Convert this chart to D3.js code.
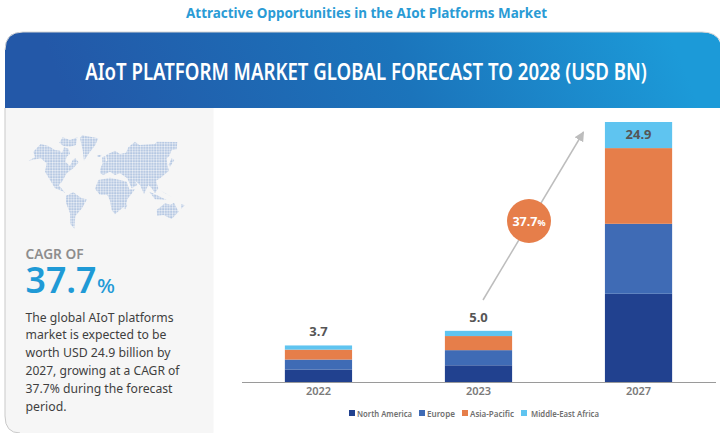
<!DOCTYPE html>
<html>
<head>
<meta charset="utf-8">
<script src="https://cdn.jsdelivr.net/npm/d3@7"></script>
<style>
html, body { margin: 0; padding: 0; background: #fff; overflow: hidden; }
text { font-family: "Noto Sans", "Open Sans", sans-serif; }
</style>
</head>
<body>
<div id="chart"></div>
<script>
var years = ["2022", "2023", "2027"];
var regions = ["North America", "Europe", "Asia-Pacific", "Middle-East Africa"];
var regionColors = ["#21418f", "#3f6bb5", "#e67e4a", "#5fc4f0"];
var northAmerica = [1.2, 1.6, 8.45];
var europe = [0.95, 1.45, 6.7];
var asiaPacific = [0.95, 1.35, 7.25];
var middleEastAfrica = [0.4, 0.5, 2.5];
var totals = ["3.7", "5.0", "24.9"];
var legendX = [349, 419, 462, 521];
var legendWidths = [55, 28, 44, 68];
var bodyLines = [
  "The global AIoT platforms",
  "market is expected to be",
  "worth USD 24.9 billion by",
  "2027, growing at a CAGR of",
  "37.7% during the forecast",
  "period."
];
var bodyWidths = [148, 141, 145, 154, 147, 41];

// rough outlines of the dotted world map, in 3x crop units
var land = [
  "M25,92L45,82L40,65L62,42L85,48L105,60L120,62L126,70L132,52L146,56L150,72L140,80L136,95L150,108L158,90L166,85L176,97L160,115L140,130L126,155L116,166L122,172L136,190L128,184L105,175L90,150L75,125L80,100L62,85Z",
  "M118,38L128,22L150,30L172,22L168,45L150,50L130,48Z",
  "M180,25L186,16L235,25L226,45L208,68L192,92L188,60Z",
  "M138,197L160,187L185,205L201,208L186,235L166,258L163,296L151,282L150,250L138,218Z",
  "M240,118L248,100L262,92L258,75L285,62L300,72L318,68L325,52L345,35L358,45L405,42L410,35L472,36L470,58L455,60L448,78L440,85L442,105L447,122L432,135L420,145L408,152L415,175L405,190L395,175L385,165L372,192L360,165L345,152L352,165L335,175L322,145L300,130L285,135L270,125L250,135L240,130Z",
  "M225,176L235,150L270,143L300,150L320,155L328,178L345,178L322,208L318,225L300,240L285,253L275,240L270,212L262,195L240,195Z",
  "M410,240L435,220L452,224L462,218L476,245L455,267L430,255L412,258Z",
  "M388,185L410,195L440,210L405,208Z",
  "M420,180L445,195L462,205L435,190Z",
  "M315,222L322,225L316,238L311,235Z",
  "M455,85L463,90L450,110L446,104Z",
  "M246,82L256,78L258,98L247,100Z",
  "M232,76L244,74L242,81L233,81Z",
  "M484,222L494,226L484,236Z"
];

var width = 720, height = 433;

var svg = d3.select("#chart").append("svg")
  .attr("width", width)
  .attr("height", height)
  .style("display", "block");

var defs = svg.append("defs");

var grad = defs.append("linearGradient")
  .attr("id", "headerGrad")
  .attr("gradientUnits", "userSpaceOnUse")
  .attr("x1", 100).attr("y1", 180)
  .attr("x2", 640).attr("y2", -40);
grad.append("stop").attr("offset", 0).attr("stop-color", "#2358a8");
grad.append("stop").attr("offset", 0.55).attr("stop-color", "#1b74bb");
grad.append("stop").attr("offset", 1).attr("stop-color", "#1c9ad8");

var plaid = defs.append("pattern")
  .attr("id", "plaid")
  .attr("patternUnits", "userSpaceOnUse")
  .attr("width", 8).attr("height", 8);
plaid.append("rect").attr("width", 8).attr("height", 8).attr("fill", "#b4c7e2");
plaid.append("rect").attr("width", 3).attr("height", 8).attr("fill", "#d6e0ef");
plaid.append("rect").attr("width", 8).attr("height", 3).attr("fill", "#d6e0ef");
plaid.append("rect").attr("width", 3).attr("height", 3).attr("fill", "#eef1f6");

defs.append("marker")
  .attr("id", "head")
  .attr("viewBox", "0 0 10 10")
  .attr("refX", 9).attr("refY", 5)
  .attr("markerUnits", "userSpaceOnUse")
  .attr("markerWidth", 10).attr("markerHeight", 10)
  .attr("orient", "auto")
  .append("path").attr("d", "M0,0L10,5L0,10Z").attr("fill", "#bdbdbd");

// card: side panel and header
svg.append("path")
  .attr("d", "M213.5,108V433H20Q5,433 5,416V108Z")
  .attr("fill", "#f6f6f6")
  .attr("stroke", "none");
svg.append("path")
  .attr("d", "M5,108V416Q5,433 20,433")
  .attr("fill", "none")
  .attr("stroke", "#c9c9c9");
svg.append("path")
  .attr("d", "M5,108V50Q5,32 23,32H702Q720,32 722,50V108Z")
  .attr("fill", "url(#headerGrad)");
svg.append("path")
  .attr("d", "M5,50Q5,32 23,32H702Q716,32 721,42")
  .attr("fill", "none")
  .attr("stroke", "#d4d4d4");

svg.append("text")
  .attr("x", 366.5).attr("y", 18)
  .attr("text-anchor", "middle")
  .attr("textLength", 361)
  .attr("lengthAdjust", "spacingAndGlyphs")
  .attr("font-size", 13.5).attr("font-weight", 700)
  .attr("fill", "#2a9bd5")
  .text("Attractive Opportunities in the AIot Platforms Market");

// the original face is narrower than Noto Sans, so squeeze the title to its width
var title = svg.append("text")
  .attr("text-anchor", "middle")
  .attr("font-size", 24).attr("font-weight", 600)
  .attr("fill", "#fff")
  .text("AIoT PLATFORM MARKET GLOBAL FORECAST TO 2028 (USD BN)");
title.attr("transform", "translate(366,80) scale(" + (562 / title.node().getComputedTextLength()) + ",1)");

// map
svg.append("g")
  .attr("transform", "translate(20,130) scale(0.3333)")
  .selectAll("path")
  .data(land)
  .join("path")
  .attr("d", function(d) { return d; })
  .attr("fill", "url(#plaid)");

// side text
svg.append("text")
  .attr("x", 25.5).attr("y", 259)
  .attr("textLength", 58)
  .attr("lengthAdjust", "spacingAndGlyphs")
  .attr("font-size", 14.5).attr("font-weight", 600)
  .attr("fill", "#8d8d8d")
  .text("CAGR OF");

svg.append("text")
  .attr("x", 25.5).attr("y", 293)
  .attr("textLength", 71)
  .attr("lengthAdjust", "spacingAndGlyphs")
  .attr("font-size", 36.5).attr("font-weight", 600)
  .attr("fill", "#1f9ad6")
  .text("37.7");
svg.append("text")
  .attr("x", 97).attr("y", 293)
  .attr("textLength", 18)
  .attr("lengthAdjust", "spacingAndGlyphs")
  .attr("font-size", 20).attr("font-weight", 500)
  .attr("fill", "#1f9ad6")
  .text("%");

svg.append("g").selectAll("text")
  .data(bodyLines)
  .join("text")
  .attr("x", 25.5)
  .attr("y", function(d, i) { return 321.5 + i * 17.8; })
  .attr("textLength", function(d, i) { return bodyWidths[i]; })
  .attr("lengthAdjust", "spacingAndGlyphs")
  .attr("font-size", 13)
  .attr("fill", "#3f3f3f")
  .text(function(d) { return d; });

// chart
var x = d3.scaleBand()
  .domain(years)
  .range([241.5, 715.5])
  .paddingInner(0.58)
  .paddingOuter(0.271);

var y = d3.scaleLinear()
  .domain([0, 24.9])
  .range([382, 122]);

var rows = years.map(function(yr, i) {
  return {
    year: yr,
    "North America": northAmerica[i],
    "Europe": europe[i],
    "Asia-Pacific": asiaPacific[i],
    "Middle-East Africa": middleEastAfrica[i]
  };
});

var stacked = d3.stack().keys(regions)(rows);

svg.append("g").selectAll("g")
  .data(stacked)
  .join("g")
  .attr("fill", function(d, i) { return regionColors[i]; })
  .selectAll("rect")
  .data(function(d) { return d; })
  .join("rect")
  .attr("x", function(d) { return x(d.data.year); })
  .attr("width", x.bandwidth())
  .attr("y", function(d) { return y(d[1]); })
  .attr("height", function(d) { return y(d[0]) - y(d[1]); });

var axis = svg.append("g")
  .attr("transform", "translate(0,382)")
  .call(d3.axisBottom(x).tickSize(0).tickPadding(5));
axis.select(".domain").attr("stroke", "#9a9a9a").attr("stroke-width", 1.2);
axis.selectAll("text")
  .attr("font-family", null)
  .attr("font-size", 11).attr("font-weight", 600)
  .attr("fill", "#7a7a7a");

var tops = stacked[3];
svg.append("g").selectAll("text")
  .data(totals)
  .join("text")
  .attr("x", function(d, i) { return x(years[i]) + x.bandwidth() / 2; })
  .attr("y", function(d, i) {
    // the big bar carries its label inside the top segment
    return i === 2 ? y(tops[i][1]) + 17 : y(tops[i][1]) - 9;
  })
  .attr("text-anchor", "middle")
  .attr("font-size", 13).attr("font-weight", 700)
  .attr("fill", "#555")
  .text(function(d) { return d; });

// growth arrow
svg.append("line")
  .attr("x1", 483).attr("y1", 300)
  .attr("x2", 583.5).attr("y2", 132)
  .attr("stroke", "#bdbdbd")
  .attr("stroke-width", 1.5)
  .attr("marker-end", "url(#head)");

svg.append("circle")
  .attr("cx", 529).attr("cy", 221).attr("r", 22)
  .attr("fill", "#e67e4a");

var badge = svg.append("text")
  .attr("x", 529).attr("y", 225.5)
  .attr("text-anchor", "middle")
  .attr("fill", "#fff")
  .attr("font-weight", 700);
badge.append("tspan").attr("font-size", 12.5).text("37.7");
badge.append("tspan").attr("font-size", 9).text("%");

// legend
var legend = svg.append("g").selectAll("g")
  .data(regions)
  .join("g")
  .attr("transform", function(d, i) { return "translate(" + legendX[i] + ",410)"; });
legend.append("rect")
  .attr("width", 6).attr("height", 6)
  .attr("fill", function(d, i) { return regionColors[i]; });
legend.append("text")
  .attr("x", function(d, i) { return i === 3 ? 10 : 8; })
  .attr("y", 6.5)
  .attr("textLength", function(d, i) { return legendWidths[i]; })
  .attr("lengthAdjust", "spacingAndGlyphs")
  .attr("font-size", 9).attr("font-weight", 600)
  .attr("fill", "#707070")
  .text(function(d) { return d; });
</script>
</body>
</html>
